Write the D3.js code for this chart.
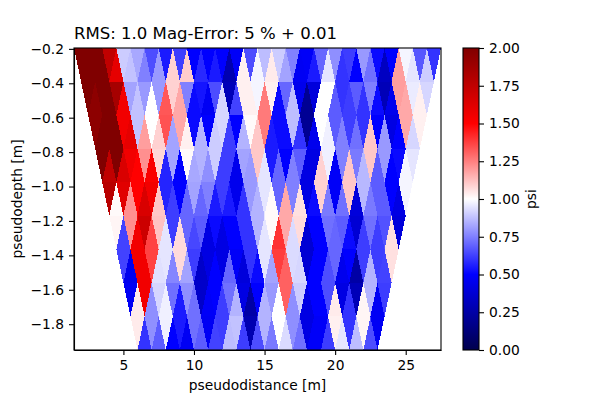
<!DOCTYPE html>
<html>
<head>
<meta charset="utf-8">
<script src="https://cdn.jsdelivr.net/npm/d3@7"></script>
<style>
  html, body { margin: 0; padding: 0; background: #fff; }
  text { font-family: "DejaVu Sans", sans-serif; fill: #000; }
  .tick line, .domain { stroke: #000; stroke-width: 1.1; }
</style>
</head>
<body>
<div id="wrapper"></div>
<script>
// psi of each triangle, per band between two pseudodepth levels, left to right
// down = flat side on the upper level, up = flat side on the lower level
const down1 = [2,2,1.75,.9,.83,.65,.55,.62,.5,.5,.5,.48,.65,.87,.9,.75,.48,.7,.78,.62,.8,.52,.5,.98,.67,.6];
const up1 = [2,2,1.6,.88,.75,.8,1.09,1.1,.58,.55,.28,1.03,.98,1.04,.82,.47,.55,.95,.6,.5,.72,.33,1.19,.95,.9];
const down2 = [2,2,1.85,.82,.8,.8,1.09,.75,.54,.65,.3,1.03,.98,1.03,.7,.45,.4,1,.6,.68,.75,.3,1.19,.96,.92];
const up2 = [1.95,2,1.55,.88,1,1.33,1.17,.52,.47,.92,.63,1.03,1.26,.52,.87,.2,1,.68,.62,.6,.52,.45,1.17,1.03];
const down3 = [1.95,2,1.55,.88,1,1.34,1.17,.52,.5,.92,.5,1.01,1.26,.52,.87,.2,1,.68,.62,.6,.5,.42,1.17,1.03];
const up3 = [2,2,1.6,1.19,1.09,.82,1.03,.85,.9,.62,.85,1.11,.55,.52,.6,.45,.97,.75,.72,1.11,.8,.5,.92];
const down4 = [2,2,1.55,1.22,1.08,.82,1.01,.85,.9,.62,.82,1.11,.55,.5,.68,.42,.97,.75,.74,1.11,.8,.52,.95];
const up4 = [1.75,1.65,1.5,1.52,.57,.5,.83,.78,.62,.45,.8,.95,.7,.75,.42,1.09,.48,1.11,.86,.68,.5,.98];
const down5 = [1.78,1.62,1.5,1.55,.57,.5,.82,.75,.62,.45,.8,.95,.7,.75,.42,1.09,.48,1.11,.86,.68,.5,.98];
const up5 = [1.01,1.22,1.65,1.11,.62,.7,.7,.55,.55,.6,.85,1.01,1.17,1.06,.52,.74,.72,.4,.74,.68,.42];
const down6 = [1.02,1.22,1.7,1.12,.62,.7,.68,.52,.5,.6,.85,1.01,1.17,1.07,.5,.72,.68,.38,.72,.66,.4];
const up6 = [.63,1.55,1.37,.95,1.07,.64,.42,.42,.5,.6,.95,1.4,.93,.38,.5,.7,.52,.62,.62,1.06];
const down7 = [.63,1.55,1.37,.95,1.07,.62,.42,.42,.48,.6,.95,1.38,.93,.38,.5,.7,.5,.62,.62,1.06];
const up7 = [.45,1.55,.94,.76,.82,.35,.5,.7,.4,.52,.82,1.31,.92,.5,.65,.45,.25,.85,.63];
const down8 = [.47,1.55,.92,.72,.78,.35,.5,.72,.42,.5,.8,1.31,.9,.5,.65,.42,.3,.85,.62];
const up8 = [1.04,.78,.97,.55,.72,.48,.62,.85,.25,.85,1,.78,.42,.5,1.04,.6,1.02,.47];
const down9 = [1.04,.78,.97,.55,.72,.47,.62,.88,.28,.85,1,.78,.42,.48,1.03,.6,1.02,.47];
const up9 = [.6,.68,.5,.47,.68,.63,.87,.62,.65,.74,.93,.72,.48,.62,.95,.87,.65];

const downBands = [down1,down2,down3,down4,down5,down6,down7,down8,down9];
const upBands = [up1,up2,up3,up4,up5,up6,up7,up8,up9];

const xTicks = [5,10,15,20,25];
const yTicks = [-0.2,-0.4,-0.6,-0.8,-1.0,-1.2,-1.4,-1.6,-1.8];
const cbTicks = [0,0.25,0.5,0.75,1,1.25,1.5,1.75,2];

const depthStep = 0.195;
const xMin = 1.5;
const xMax = 27.5;

const dimensions = {
    width: 590,
    height: 393,
    plot: { left: 74, right: 441, top: 48, bottom: 350 },
    bar: { left: 463, right: 479 },
}

const svg = d3.select("#wrapper")
    .append("svg")
    .attr("width", dimensions.width)
    .attr("height", dimensions.height)
    .style("display", "block");

const xScale = d3.scaleLinear()
    .domain([xMin, xMax])
    .range([dimensions.plot.left, dimensions.plot.right]);

const yScale = d3.scaleLinear()
    .domain([-depthStep, -depthStep * (downBands.length + 1)])
    .range([dimensions.plot.top, dimensions.plot.bottom]);

// matplotlib "seismic"
const colorScale = d3.scaleLinear()
    .domain([0, 0.5, 1, 1.5, 2])
    .range(["#00004d", "#0000ff", "#ffffff", "#ff0000", "#800000"]);

// pseudosection triangle: each level starts half a metre further in
const triangles = [];
downBands.forEach((values, i) => {
    const top = -depthStep * (i + 1);
    const bottom = top - depthStep;
    values.forEach((psi, j) => {
        const x = xMin + i / 2 + j;
        triangles.push({ psi, corners: [[x, top], [x + 1, top], [x + 0.5, bottom]] });
    });
    upBands[i].forEach((psi, j) => {
        const x = xMin + (i + 1) / 2 + j;
        triangles.push({ psi, corners: [[x, bottom], [x + 1, bottom], [x + 0.5, top]] });
    });
});

svg.append("g")
    .selectAll("polygon")
    .data(triangles)
    .enter()
    .append("polygon")
    .attr("points", d => d.corners.map(c => [xScale(c[0]), yScale(c[1])]).join(" "))
    .attr("fill", d => colorScale(d.psi))
    .attr("shape-rendering", "crispEdges");

svg.append("g")
    .attr("transform", `translate(0, ${dimensions.plot.bottom})`)
    .call(d3.axisBottom(xScale).tickValues(xTicks).tickSize(5).tickPadding(5).tickSizeOuter(0));

svg.append("g")
    .attr("transform", `translate(${dimensions.plot.left}, 0)`)
    .call(d3.axisLeft(yScale).tickValues(yTicks).tickSize(5).tickPadding(5).tickSizeOuter(0)
        .tickFormat(d => d3.format(".1f")(d).replace("-", "\u2212")));

svg.selectAll(".tick text").style("font-size", "13.8px");

// frame
svg.append("rect")
    .attr("x", dimensions.plot.left)
    .attr("y", dimensions.plot.top)
    .attr("width", dimensions.plot.right - dimensions.plot.left)
    .attr("height", dimensions.plot.bottom - dimensions.plot.top)
    .attr("fill", "none")
    .attr("stroke", "#000")
    .attr("stroke-width", 1.1);

svg.append("text")
    .attr("x", dimensions.plot.left)
    .attr("y", 39)
    .style("font-size", "16.55px")
    .text("RMS: 1.0 Mag-Error: 5 % + 0.01");

svg.append("text")
    .attr("x", (dimensions.plot.left + dimensions.plot.right) / 2)
    .attr("y", 390)
    .attr("text-anchor", "middle")
    .style("font-size", "13.8px")
    .text("pseudodistance [m]");

svg.append("text")
    .attr("transform", `translate(22, ${(dimensions.plot.top + dimensions.plot.bottom) / 2}) rotate(-90)`)
    .attr("text-anchor", "middle")
    .style("font-size", "13.8px")
    .text("pseudodepth [m]");

// colorbar
const cbScale = d3.scaleLinear()
    .domain([0, 2])
    .range([dimensions.plot.bottom, dimensions.plot.top]);

const gradient = svg.append("defs").append("linearGradient")
    .attr("id", "cb-gradient")
    .attr("x1", 0).attr("x2", 0).attr("y1", 1).attr("y2", 0);

colorScale.domain().forEach(v => {
    gradient.append("stop")
        .attr("offset", v / 2)
        .attr("stop-color", colorScale(v));
});

svg.append("rect")
    .attr("x", dimensions.bar.left)
    .attr("y", dimensions.plot.top)
    .attr("width", dimensions.bar.right - dimensions.bar.left)
    .attr("height", dimensions.plot.bottom - dimensions.plot.top)
    .attr("fill", "url(#cb-gradient)")
    .attr("stroke", "#000")
    .attr("stroke-width", 1.1);

svg.append("g")
    .attr("transform", `translate(${dimensions.bar.right}, 0)`)
    .call(d3.axisRight(cbScale).tickValues(cbTicks).tickSize(5).tickPadding(5).tickSizeOuter(0)
        .tickFormat(d3.format(".2f")))
    .call(g => g.select(".domain").remove())
    .selectAll("text").style("font-size", "13.8px");

svg.append("text")
    .attr("transform", `translate(536, ${(dimensions.plot.top + dimensions.plot.bottom) / 2}) rotate(-90)`)
    .attr("text-anchor", "middle")
    .style("font-size", "13.8px")
    .text("psi");
</script>
</body>
</html>
